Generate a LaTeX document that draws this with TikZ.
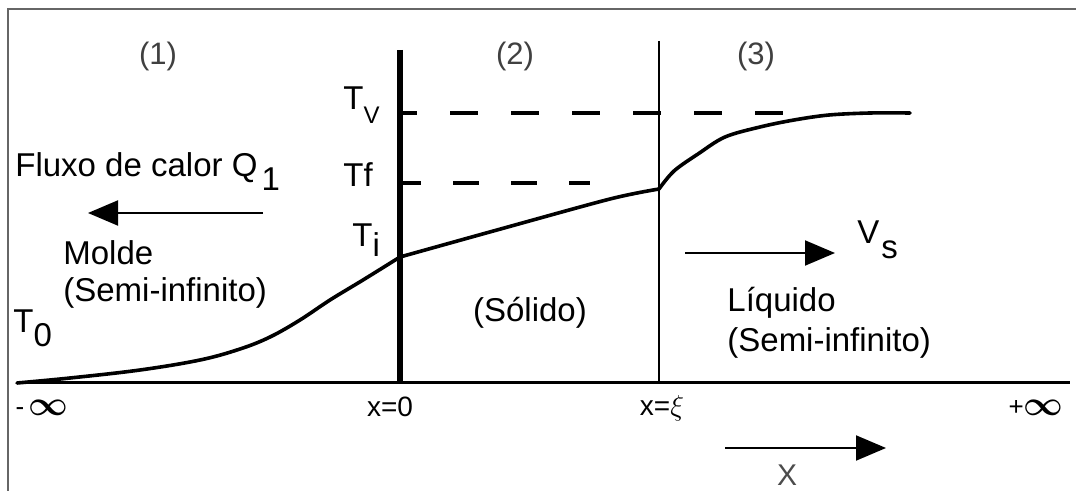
\documentclass[tikz,border=0pt]{standalone}
\usepackage{fontspec}
\setmainfont{Liberation Sans}
\usetikzlibrary{arrows.meta}
\newcommand{\bigInf}{\mbox{\fontsize{19}{19}\selectfont\mathversion{bold}$\infty$}}
\begin{document}
\begin{tikzpicture}[x=0.5pt,y=-0.5pt,
  frame/.style={draw=black!60, line width=1pt},
  axisline/.style={line width=1.5pt},
  wall/.style={line width=2.6pt},
  front/.style={line width=1pt},
  profile/.style={line width=1.8pt, line join=round, line cap=round},
  levelv/.style={line width=1.6pt, dash pattern=on 14pt off 16.5pt, dash phase=6pt},
  levelf/.style={line width=1.6pt, dash pattern=on 13pt off 16pt, dash phase=3pt},
  flow/.style={line width=1pt, -{Triangle[length=15pt,width=12.5pt]}},
  lbl/.style={font=\fontsize{16.5}{19}\selectfont, inner sep=0pt},
  region/.style={font=\fontsize{15.5}{18}\selectfont, inner sep=0pt, text=black!75},
  tick/.style={font=\fontsize{14}{16}\selectfont, inner sep=0pt},
  inf/.style={font=\fontsize{13}{13}\selectfont, inner sep=0pt}
]
\useasboundingbox (0,0) rectangle (1076,491);
% frame
\coordinate (fb) at (8,491);
\coordinate (fc) at (8,9);
\coordinate (fr) at (1076,9);
\draw[frame] (fb) -- (fc) -- (fr);

% axis and interfaces
\coordinate (axL) at (17,383);
\coordinate (axR) at (1070,383);
\draw[axisline] (axL) -- (axR);
\coordinate (w0t) at (400,50);
\coordinate (w0b) at (400,383);
\draw[wall] (w0t) -- (w0b);
\coordinate (wxt) at (659,41);
\coordinate (wxb) at (659,383);
\draw[front] (wxt) -- (wxb);

% temperature levels
\coordinate (tvs) at (401,113);
\coordinate (tve) at (800,113);
\draw[levelv] (tvs) -- (tve);
\coordinate (tfs) at (401,183);
\coordinate (tfe) at (590,183);
\draw[levelf] (tfs) -- (tfe);

% temperature profile
\coordinate (pi) at (400,257);
\coordinate (pf) at (659,189);
\draw[profile] plot[smooth, tension=0.6] coordinates {(17,383) (70,378) (140,370) (200,360) (240,349) (270,337) (300,320) (330,300) (363,280) (400,257)};
\draw[profile] plot[smooth, tension=0.5] coordinates {(400,257) (497,230) (610,199) (659,189)};
\draw[profile] plot[smooth, tension=0.55] coordinates {(659,189) (674,171) (698,154) (725,137) (760,127) (794,120) (829,115) (870,113) (910,113)};

% region labels
\node[region] (r1) at (158,56) {(1)};
\node[region] (r2) at (515,56) {(2)};
\node[region] (r3) at (756,56) {(3)};

% temperature labels
\node[lbl, anchor=base west] (tv) at (343,110) {T\raisebox{-0.42em}{\fontsize{12}{12}\selectfont V}};
\node[lbl, anchor=base west] (tf) at (343,187) {Tf};
\node[lbl, anchor=base west] (ti) at (352,247) {T\raisebox{-0.3em}{i}};
\node[lbl, anchor=base west] (t0) at (13,333) {T\raisebox{-0.4em}{0}};

% heat flux
\node[lbl, anchor=base west] (flux) at (15,177) {Fluxo de calor Q\kern2pt\raisebox{-0.4em}{1}};
\coordinate (qs) at (263,213);
\coordinate (qe) at (88,213);
\draw[flow] (qs) -- (qe);

\node[lbl, anchor=base west] (molde) at (63,265) {Molde};
\node[lbl, anchor=base west] (semi1) at (63,302) {(Semi-infinito)};
\node[lbl, anchor=base] (sol) at (530,322) {(Sólido)};
\node[lbl, anchor=base west] (liq) at (727,312) {Líquido};
\node[lbl, anchor=base west] (semi2) at (727,352) {(Semi-infinito)};

% solidification speed
\coordinate (vs0) at (685,253);
\coordinate (vs1) at (835,253);
\draw[flow] (vs0) -- (vs1);
\node[lbl, anchor=base west] (vs) at (857,244) {V\kern1pt\raisebox{-0.45em}{s}};

% axis labels
\node[tick] (x0) at (390,407) {x=0};
\node[tick] (xi) at (662,408) {x=$\xi$};
\node[inf] (minf) at (42,408) {-\,\bigInf};
\node[inf] (pinf) at (1036,408) {+\bigInf};

\coordinate (xa0) at (725,448);
\coordinate (xa1) at (886,448);
\draw[flow] (xa0) -- (xa1);
\node[tick, text=black!70, font=\fontsize{15}{17}\selectfont] (xl) at (787,475) {X};
\end{tikzpicture}
\end{document}
